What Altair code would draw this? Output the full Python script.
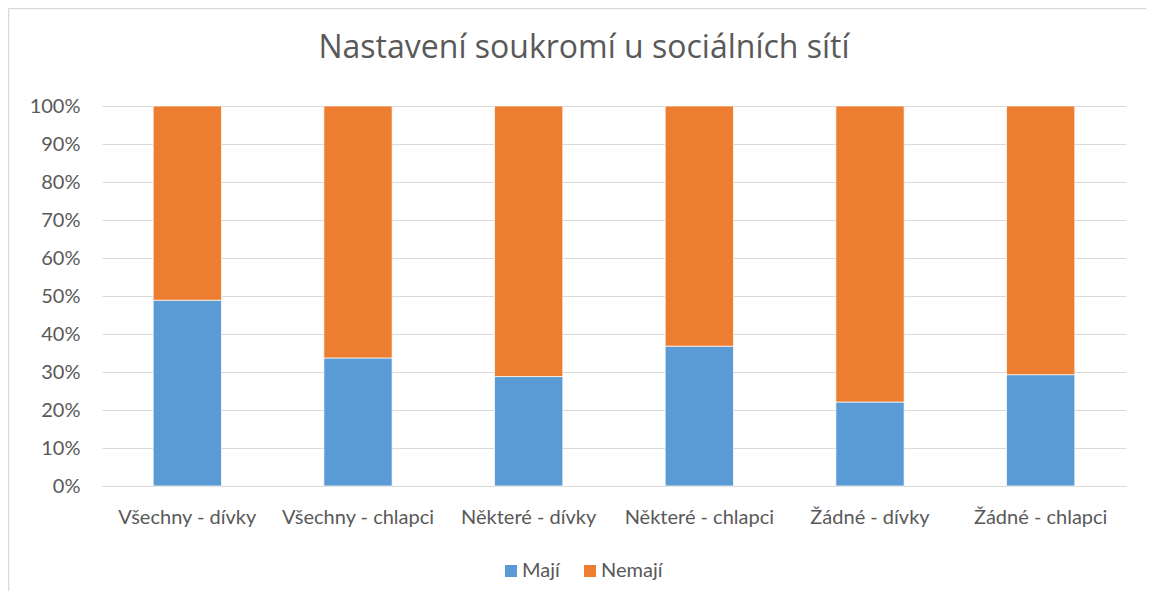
import altair as alt
import pandas as pd

title_text = "Nastavení soukromí u sociálních sítí"
categories = ["Všechny - dívky", "Všechny - chlapci", "Některé - dívky",
              "Některé - chlapci", "Žádné - dívky", "Žádné - chlapci"]
series_names = ["Mají", "Nemají"]
maji = [48.9, 33.7, 28.8, 36.8, 22.1, 29.3]
nemaji = [51.1, 66.3, 71.2, 63.2, 77.9, 70.7]
colors = ["#5B9BD5", "#ED7D31"]

rows = []
for i, c in enumerate(categories):
    rows.append({"kat": c, "serie": series_names[0], "val": maji[i], "ord": 0})
    rows.append({"kat": c, "serie": series_names[1], "val": nemaji[i], "ord": 1})
df = pd.DataFrame(rows)

FONT = "Lato"
TXT = "#595959"
GRID = "#D9D9D9"

bars = alt.Chart(df).mark_bar(stroke="white", strokeWidth=0.7).encode(
    x=alt.X("kat:N", sort=categories, title=None,
            scale=alt.Scale(paddingInner=0.6, paddingOuter=0.3),
            axis=alt.Axis(labelAngle=0, labelFontSize=20, labelColor=TXT, labelFont=FONT,
                          ticks=False, domain=True, domainColor=GRID, labelPadding=21)),
    y=alt.Y("val:Q", stack="normalize", title=None,
            scale=alt.Scale(domain=[0, 1]),
            axis=alt.Axis(format="%", values=[i / 10 for i in range(11)],
                          labelFontSize=20, labelColor=TXT, labelFont=FONT,
                          ticks=False, domain=False, gridColor=GRID, gridWidth=1,
                          labelPadding=22)),
    color=alt.Color("serie:N", sort=series_names,
                    scale=alt.Scale(domain=series_names, range=colors),
                    legend=alt.Legend(title=None, orient="none", legendX=399, legendY=455,
                                      direction="horizontal", symbolType="square",
                                      symbolSize=144, symbolStrokeWidth=0,
                                      labelFontSize=20, labelColor=TXT, labelFont=FONT,
                                      columnPadding=20, labelOffset=1)),
    order=alt.Order("ord:Q"),
)

one = alt.Data(values=[{"a": 1}])
frame_left = alt.Chart(one).mark_rule(color="#D9D9D9", strokeWidth=1.5).encode(
    x=alt.value(-93.5), y=alt.value(-97.5), y2=alt.value(485))
frame_top = alt.Chart(one).mark_rule(color="#D9D9D9", strokeWidth=1.5).encode(
    x=alt.value(-93.5), x2=alt.value(1044), y=alt.value(-97.5))

chart = alt.layer(frame_left, frame_top, bars).properties(
    width=1024, height=380,
    title=alt.Title(title_text, fontSize=32, font="Open Sans", fontWeight="normal",
                    color=TXT, anchor="middle", dx=-30, offset=-82,
                    baseline="alphabetic"),
    autosize=alt.AutoSizeParams(type="none"),
    padding={"left": 94, "top": 98, "right": 20, "bottom": 105},
).configure_view(stroke=None)

chart.save("out.html", embed_options={"renderer": "svg", "actions": False})
